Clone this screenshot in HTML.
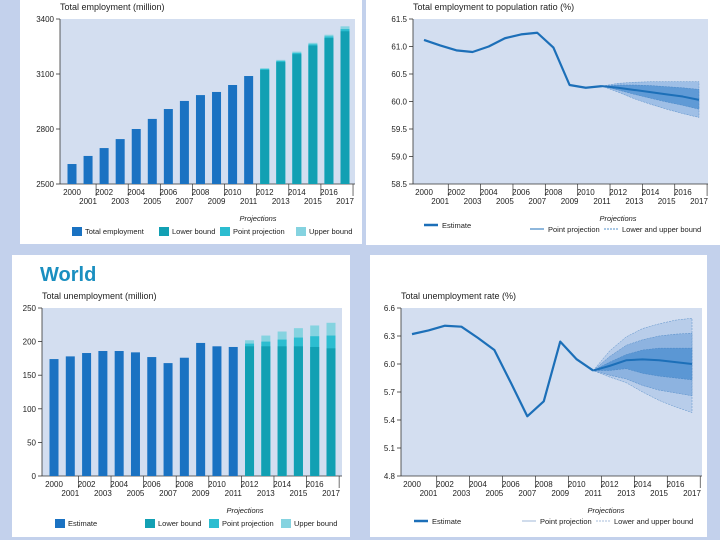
<!DOCTYPE html>
<html><head><meta charset="utf-8"><style>
html,body{margin:0;padding:0;background:#c3d1ec;}
svg{display:block;font-family:"Liberation Sans Narrow","Liberation Sans",sans-serif;}
</style></head><body>
<svg id="s" width="720" height="540" xmlns="http://www.w3.org/2000/svg">
<rect x="0" y="0" width="720" height="540" fill="#c3d1ec"/>
<rect x="20" y="0" width="342" height="244" fill="#ffffff"/>
<rect x="366" y="0" width="354" height="245" fill="#ffffff"/>
<rect x="12" y="255" width="338" height="282" fill="#ffffff"/>
<rect x="370" y="255" width="337" height="282" fill="#ffffff"/>
<text x="40" y="281" font-family="Liberation Sans,sans-serif" font-size="20" font-weight="bold" fill="#1a8fc0">World</text>
</svg>
<script>
const years=[2000,2001,2002,2003,2004,2005,2006,2007,2008,2009,2010,2011,2012,2013,2014,2015,2016,2017];
const empEst=[2609,2653,2696,2745,2800,2855,2909,2953,2985,3002,3040,3089];
const empLow=[3122,3165,3208,3255,3296,3333];
const empPoint=[3127,3171,3215,3262,3305,3345];
const empUp=[3132,3177,3222,3270,3314,3360];
const empTicks=[2500,2800,3100,3400];
const ratioEst=[61.12,61.02,60.93,60.9,61.0,61.15,61.22,61.25,60.98,60.3,60.25,60.28];
const ratioPoint=[60.28,60.25,60.21,60.17,60.13,60.09,60.03];
const ratioUp1=[60.28,60.3,60.3,60.29,60.27,60.25,60.22];
const ratioLo1=[60.28,60.21,60.13,60.06,59.99,59.93,59.86];
const ratioUp2=[60.28,60.33,60.35,60.36,60.36,60.36,60.36];
const ratioLo2=[60.28,60.17,60.05,59.95,59.86,59.78,59.71];
const ratioTicks=[58.5,59.0,59.5,60.0,60.5,61.0,61.5];
const unEst=[174,178,183,186,186,184,177,168,176,198,193,192];
const unLow=[193,193,193,193,192,190];
const unPoint=[197,200,203,206,208,209];
const unUp=[202,209,215,220,224,228];
const unTicks=[0,50,100,150,200,250];
const rateEst=[6.32,6.36,6.41,6.40,6.28,6.15,5.8,5.44,5.6,6.24,6.05,5.93];
const ratePoint=[5.93,5.98,6.04,6.05,6.04,6.02,6.0];
const rateUp1=[5.93,6.02,6.1,6.15,6.17,6.17,6.17];
const rateLo1=[5.93,5.93,5.95,5.9,5.87,5.85,5.83];
const rateUp2=[5.93,6.08,6.2,6.26,6.3,6.32,6.33];
const rateLo2=[5.93,5.88,5.84,5.77,5.72,5.69,5.66];
const rateUp3=[5.93,6.14,6.29,6.38,6.43,6.47,6.49];
const rateLo3=[5.93,5.86,5.8,5.7,5.61,5.54,5.48];
const rateTicks=[4.8,5.1,5.4,5.7,6.0,6.3,6.6];

const S=document.getElementById('s');const NS='http://www.w3.org/2000/svg';
function mk(t,a,p){const e=document.createElementNS(NS,t);for(const k in a)e.setAttribute(k,a[k]);(p||S).appendChild(e);return e;}
function txt(x,y,s,o){const e=mk('text',Object.assign({x:x,y:y,'font-size':8,fill:'#222'},o||{}));e.textContent=s;return e;}

function frame(c){
  const r=mk('rect',{x:c.x0,y:c.y0,width:c.x1-c.x0,height:c.y1-c.y0,fill:'#d3def0'});
  
  
  const t=txt(c.tx,c.ty,c.title,{'font-size':9});
  
  
  const yAx=mk('line',{x1:c.x0,y1:c.y0,x2:c.x0,y2:c.y1,stroke:'#333','stroke-width':0.8});
  
  
  const xAx=mk('line',{x1:c.x0,y1:c.y1,x2:c.x1,y2:c.y1,stroke:'#333','stroke-width':0.8});
  
  
  c.ticks.forEach(v=>{
    const y=c.ys(v);
    mk('line',{x1:c.x0-4,y1:y,x2:c.x0,y2:y,stroke:'#333','stroke-width':0.8});
    const l=txt(c.x0-6,y+3,c.fmt(v),{'text-anchor':'end'});
    
    
  });
  years.forEach((yr,i)=>{
    const x=c.xs(i);
    const l=txt(x,c.y1+(i%2?20:11),String(yr),{'text-anchor':'middle'});
    
    
    if(i%2===1){const sx=x+c.step/2;mk('line',{x1:sx,y1:c.y1,x2:sx,y2:c.y1+12,stroke:'#333','stroke-width':0.7});}
  });
  const p=txt(c.px,c.y1+37,'Projections',{'font-style':'italic','font-size':7.5,'text-anchor':'middle'});
  
  
}
function legendBox(x,y,col,label,id){
  const r=mk('rect',{x:x,y:y-7,width:10,height:9,fill:col});
  
  
  const t=txt(x+13,y,label,{'font-size':7.5});
  
  
}
function legendLine(x,y,w,col,sw,dash,label,id){
  const l=mk('line',{x1:x,y1:y-3,x2:x+w,y2:y-3,stroke:col,'stroke-width':sw,'stroke-dasharray':dash||'none'});
  
  
  const t=txt(x+w+4,y,label,{'font-size':7.5});
  
  
}
const C_EST='#1a72c2',C_LOW='#12a0b3',C_PT='#2cbdd0',C_UP='#85d3e0';
function bars(c,est,low,pt,up,bw){
  const base=c.ys(c.ticks[0]);
  est.forEach((v,i)=>{const y=c.ys(v);const b=mk('rect',{x:c.xs(i)-bw/2,y:y,width:bw,height:base-y,fill:C_EST});
    
    });
  up.forEach((v,j)=>{const i=est.length+j;const x=c.xs(i)-bw/2;
    const yu=c.ys(v),yp=c.ys(pt[j]),yl=c.ys(low[j]);
    const a=mk('rect',{x:x,y:yu,width:bw,height:base-yu,fill:C_UP});
    
    
    const b=mk('rect',{x:x,y:yp,width:bw,height:base-yp,fill:C_PT});
    
    
    const d=mk('rect',{x:x,y:yl,width:bw,height:base-yl,fill:C_LOW});
    
    });
}
function poly(c,arr,off){return arr.map((v,k)=>c.xs(k+off)+','+c.ys(v)).join(' ');}
function band(c,up,lo,col,name){
  const off=years.length-up.length;
  const pts=poly(c,up,off)+' '+lo.map((v,k)=>[c.xs(k+off),c.ys(v)]).reverse().map(p=>p.join(',')).join(' ');
  const g=mk('polygon',{points:pts,fill:col,stroke:'#3f7fc0','stroke-width':0.4,'stroke-dasharray':'2,1'});
  
  
}
function lineS(c,arr,off,w,name){
  const l=mk('polyline',{points:poly(c,arr,off),fill:'none',stroke:'#1c6fb8','stroke-width':w,'stroke-linejoin':'round'});
  
  
}
function mkChart(o){
  o.step=(o.xN-o.xA)/(years.length-1);
  o.xs=i=>o.xA+i*o.step;
  const lo=o.ticks[0],hi=o.ticks[o.ticks.length-1];
  o.ys=v=>o.y1-(v-lo)/(hi-lo)*(o.y1-o.y0);
  return o;
}
// Chart 1
const c1=mkChart({id:'employment',x0:60,x1:355,y0:19,y1:184,xA:72,xN:345,ticks:empTicks,fmt:v=>String(v),title:'Total employment (million)',tx:60,ty:10,px:258});
frame(c1);bars(c1,empEst,empLow,empPoint,empUp,9);
legendBox(72,234,C_EST,'Total employment','total-employment');
legendBox(159,234,C_LOW,'Lower bound','lower-bound');
legendBox(220,234,C_PT,'Point projection','point-projection');
legendBox(296,234,C_UP,'Upper bound','upper-bound');
// Chart 2
const c2=mkChart({id:'employment-ratio',x0:413,x1:708,y0:19,y1:184,xA:424,xN:699,ticks:ratioTicks,fmt:v=>v.toFixed(1),title:'Total employment to population ratio (%)',tx:413,ty:10,px:618});
frame(c2);
band(c2,ratioUp2,ratioLo2,'#9fbfe6','ratio-outer-band');
band(c2,ratioUp1,ratioLo1,'#5f9ad6','ratio-inner-band');
lineS(c2,ratioEst,0,2.2,'ratio-estimate-line');
lineS(c2,ratioPoint,11,2,'ratio-point-projection-line');
legendLine(424,228,14,'#1c6fb8',2.5,null,'Estimate','ratio-estimate');
legendLine(530,232,14,'#1c6fb8',1,null,'Point projection','ratio-point');
legendLine(604,232,14,'#1c6fb8',0.8,'2,1','Lower and upper bound','ratio-bounds');
// Chart 3
const c3=mkChart({id:'unemployment',x0:42,x1:342,y0:308,y1:476,xA:54,xN:331,ticks:unTicks,fmt:v=>String(v),title:'Total unemployment (million)',tx:42,ty:299,px:245});
frame(c3);bars(c3,unEst,unLow,unPoint,unUp,9);
legendBox(55,526,C_EST,'Estimate','unemp-estimate');
legendBox(145,526,C_LOW,'Lower bound','unemp-lower-bound');
legendBox(209,526,C_PT,'Point projection','unemp-point-projection');
legendBox(281,526,C_UP,'Upper bound','unemp-upper-bound');
// Chart 4
const c4=mkChart({id:'unemployment-rate',x0:401,x1:702,y0:308,y1:476,xA:412,xN:692,ticks:rateTicks,fmt:v=>v.toFixed(1),title:'Total unemployment rate (%)',tx:401,ty:299,px:606});
frame(c4);
band(c4,rateUp3,rateLo3,'#b8cdea','rate-outer-band');
band(c4,rateUp2,rateLo2,'#8db3e0','rate-middle-band');
band(c4,rateUp1,rateLo1,'#5b97d4','rate-inner-band');
lineS(c4,rateEst,0,2.2,'rate-estimate-line');
lineS(c4,ratePoint,11,2,'rate-point-projection-line');
legendLine(414,524,14,'#1c6fb8',2.5,null,'Estimate','rate-estimate');
legendLine(522,524,14,'#8aa8d0',0.8,null,'Point projection','rate-point');
legendLine(596,524,14,'#8aa8d0',0.8,'2,1','Lower and upper bound','rate-bounds');
</script>
</body></html>
